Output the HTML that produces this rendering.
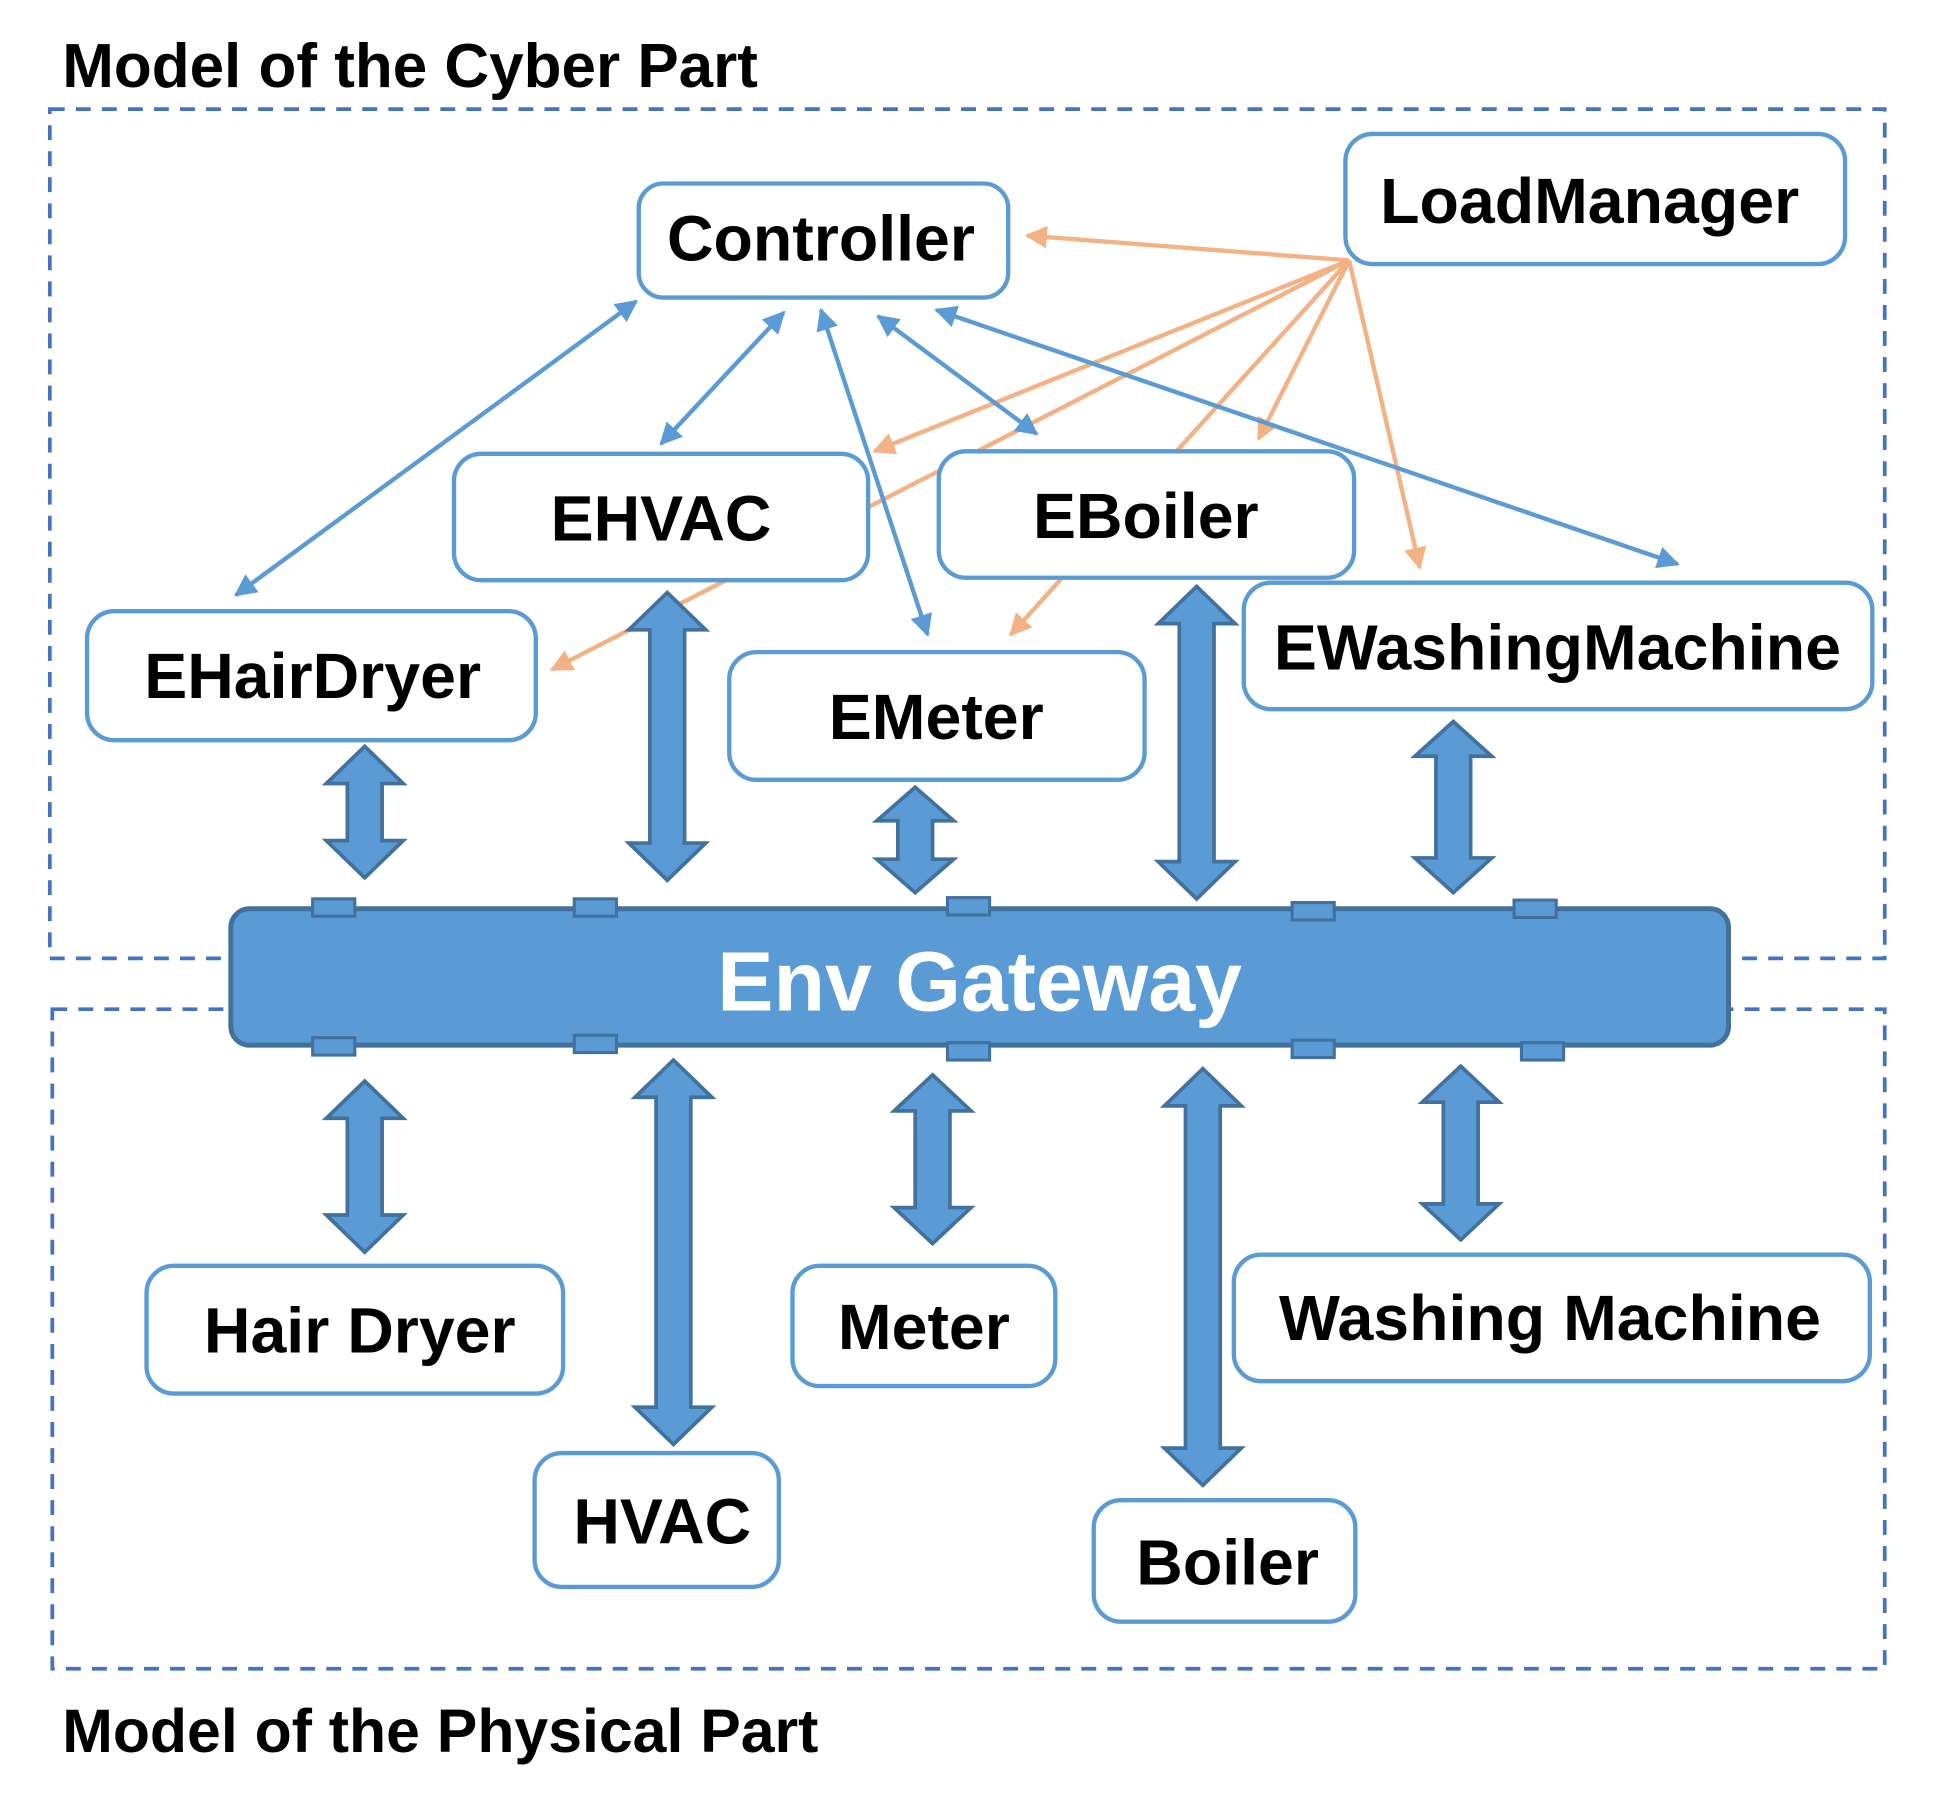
<!DOCTYPE html>
<html><head><meta charset="utf-8"><style>
html,body{margin:0;padding:0;background:#fff;}
svg{display:block;}
text{font-family:"Liberation Sans",sans-serif;font-weight:bold;}
</style></head><body>
<svg width="1942" height="1794" viewBox="0 0 1566 1447" xmlns="http://www.w3.org/2000/svg">
<defs>
<marker id="ab" viewBox="0 0 10 10" refX="9" refY="5" markerWidth="22" markerHeight="18" orient="auto-start-reverse" markerUnits="userSpaceOnUse"><path d="M0,0 L10,5 L0,10 z" fill="#5b9bd5"/></marker>
<marker id="ao" viewBox="0 0 10 10" refX="9" refY="5" markerWidth="22" markerHeight="18" orient="auto" markerUnits="userSpaceOnUse"><path d="M0,0 L10,5 L0,10 z" fill="#f4b183"/></marker>
</defs>
<style>
.b{fill:#fff;stroke:#5b9bd5;stroke-width:3.5}
.t{font-size:52px;fill:#000;text-anchor:middle}
.bl{stroke:#5b9bd5;stroke-width:3.5;fill:none}
.or{stroke:#f4b183;stroke-width:3.5;fill:none}
.fa{fill:#5b9bd5;stroke:#41719c;stroke-width:3}
.cn{fill:#5b9bd5;stroke:#41719c;stroke-width:2.5}
</style>
<text x="50" y="70" style="font-size:50px">Model of the Cyber Part</text>
<text x="50" y="1413" style="font-size:49px">Model of the Physical Part</text>
<rect x="40" y="88" width="1480" height="685" fill="none" stroke="#4472c4" stroke-width="3" stroke-dasharray="12,9"/>
<rect x="42" y="814" width="1478" height="532" fill="none" stroke="#4472c4" stroke-width="3" stroke-dasharray="12,9"/>

<g class="or">
<line x1="1088" y1="210" x2="828" y2="190" marker-end="url(#ao)"/>
<line x1="1088" y1="210" x2="705" y2="364" marker-end="url(#ao)"/>
<line x1="1088" y1="210" x2="445" y2="540" marker-end="url(#ao)"/>
<line x1="1088" y1="210" x2="1015" y2="354" marker-end="url(#ao)"/>
<line x1="1088" y1="210" x2="815" y2="512" marker-end="url(#ao)"/>
<line x1="1088" y1="210" x2="1145" y2="458" marker-end="url(#ao)"/>
</g>
<g class="bl">
<line x1="513" y1="243" x2="190" y2="480" marker-start="url(#ab)" marker-end="url(#ab)"/>
<line x1="632" y1="252" x2="533" y2="358" marker-start="url(#ab)" marker-end="url(#ab)"/>
<line x1="662" y1="250" x2="748" y2="512" marker-start="url(#ab)" marker-end="url(#ab)"/>
<line x1="708" y1="255" x2="836" y2="350" marker-start="url(#ab)" marker-end="url(#ab)"/>
<line x1="755" y1="250" x2="1353" y2="455" marker-start="url(#ab)" marker-end="url(#ab)"/>
</g>

<rect class="b" x="515" y="148" width="298" height="92" rx="20"/><text class="t" x="662" y="210">Controller</text>
<rect class="b" x="1085" y="108" width="403" height="105" rx="22"/><text class="t" x="1282" y="180">LoadManager</text>
<rect class="b" x="366" y="366" width="334" height="102" rx="22"/><text class="t" x="533" y="436">EHVAC</text>
<rect class="b" x="757" y="364" width="335" height="102" rx="22"/><text class="t" x="924" y="434">EBoiler</text>
<rect class="b" x="70" y="493" width="362" height="104" rx="22"/><text class="t" x="252" y="563">EHairDryer</text>
<rect class="b" x="588" y="526" width="335" height="103" rx="22"/><text class="t" x="755" y="596">EMeter</text>
<rect class="b" x="1003" y="470" width="507" height="102" rx="22"/><text class="t" x="1256" y="540">EWashingMachine</text>
<rect class="b" x="118" y="1021" width="336" height="103" rx="22"/><text class="t" x="290" y="1091">Hair Dryer</text>
<rect class="b" x="639" y="1021" width="212" height="97" rx="22"/><text class="t" x="745" y="1088">Meter</text>
<rect class="b" x="995" y="1012" width="513" height="102" rx="22"/><text class="t" x="1250" y="1081">Washing Machine</text>
<rect class="b" x="431" y="1172" width="197" height="108" rx="22"/><text class="t" x="534" y="1245">HVAC</text>
<rect class="b" x="882" y="1210" width="211" height="98" rx="22"/><text class="t" x="990" y="1278">Boiler</text>

<rect x="186" y="733" width="1208" height="110" rx="15" fill="#5b9bd5" stroke="#41719c" stroke-width="4"/>
<text x="790" y="815" style="font-size:68px;fill:#fff;text-anchor:middle">Env Gateway</text>
<g class="cn">
<rect x="252" y="725" width="34" height="14"/><rect x="463" y="725" width="34" height="14"/><rect x="764" y="724" width="34" height="14"/><rect x="1042" y="728" width="34" height="14"/><rect x="1221" y="726" width="34" height="14"/>
<rect x="252" y="837" width="34" height="14"/><rect x="463" y="835" width="34" height="14"/><rect x="764" y="841" width="34" height="14"/><rect x="1042" y="839" width="34" height="14"/><rect x="1227" y="841" width="34" height="14"/>
</g>

<g class="fa">
<path d="M294,602 L325,632 L308,632 L308,678 L325,678 L294,708 L263,678 L280,678 L280,632 L263,632 Z"/>
<path d="M538,478 L569,508 L552,508 L552,680 L569,680 L538,710 L507,680 L524,680 L524,508 L507,508 Z"/>
<path d="M738,635 L769,662 L752,662 L752,693 L769,693 L738,720 L707,693 L724,693 L724,662 L707,662 Z"/>
<path d="M965,473 L996,503 L979,503 L979,695 L996,695 L965,725 L934,695 L951,695 L951,503 L934,503 Z"/>
<path d="M1172,582 L1203,610 L1186,610 L1186,692 L1203,692 L1172,720 L1141,692 L1158,692 L1158,610 L1141,610 Z"/>
<path d="M294,872 L325,902 L308,902 L308,980 L325,980 L294,1010 L263,980 L280,980 L280,902 L263,902 Z"/>
<path d="M543,855 L574,885 L557,885 L557,1135 L574,1135 L543,1165 L512,1135 L529,1135 L529,885 L512,885 Z"/>
<path d="M752,867 L783,896 L766,896 L766,974 L783,974 L752,1003 L721,974 L738,974 L738,896 L721,896 Z"/>
<path d="M970,862 L1001,892 L984,892 L984,1168 L1001,1168 L970,1198 L939,1168 L956,1168 L956,892 L939,892 Z"/>
<path d="M1178,860 L1209,889 L1192,889 L1192,971 L1209,971 L1178,1000 L1147,971 L1164,971 L1164,889 L1147,889 Z"/>
</g>
</svg>
</body></html>
